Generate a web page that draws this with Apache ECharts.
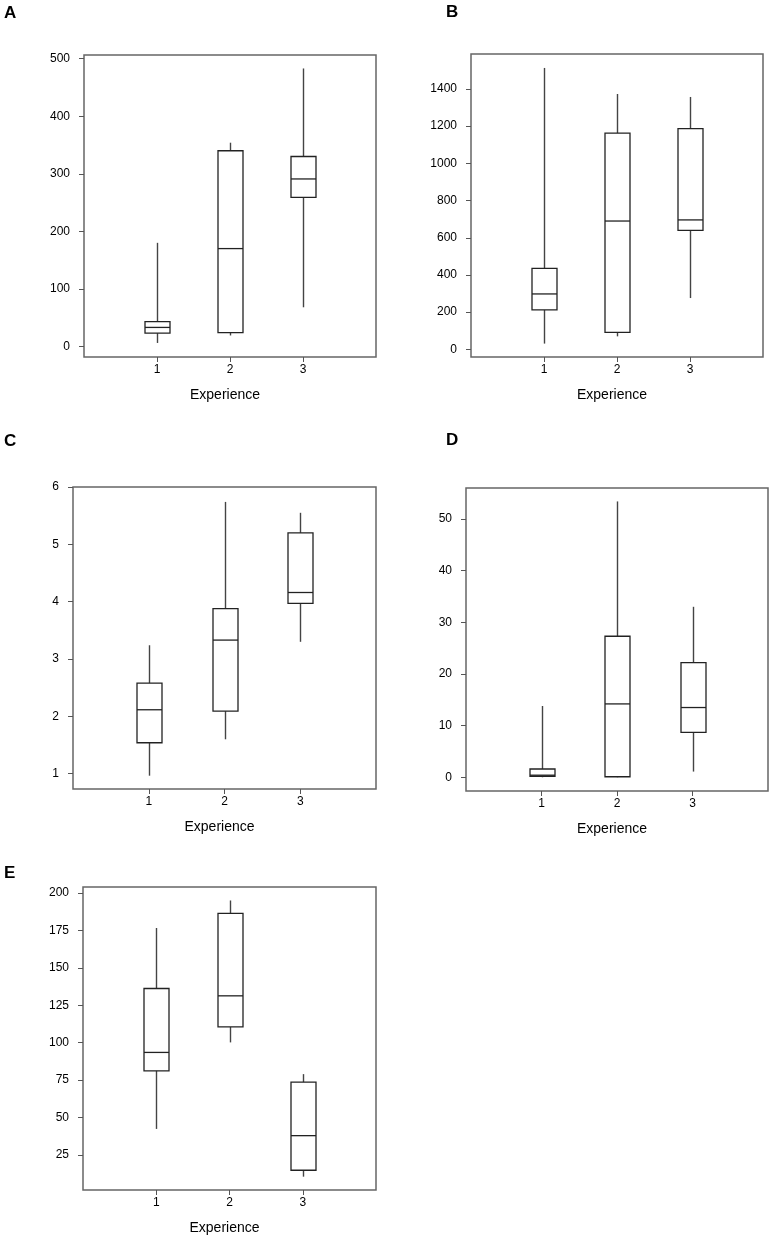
<!DOCTYPE html>
<html>
<head>
<meta charset="utf-8">
<script src="https://cdn.jsdelivr.net/npm/echarts@6/dist/echarts.min.js"></script>
<style>
html,body{margin:0;padding:0;background:#fff;}
#chart{width:772px;height:1239px;}
</style>
</head>
<body>
<div id="chart"></div>
<script>
// Categories (Experience groups)
const experience = [1, 2, 3];
// Each row: [min, Q1, median, Q3, max]
const panelA = [[6, 23, 33, 43, 180], [19, 24, 170, 340, 354], [68, 259, 291, 330, 483]];
const panelB = [[31, 212, 298, 436, 1513], [70, 91, 690, 1163, 1373], [276, 640, 696, 1187, 1357]];
const panelC = [[0.965, 1.54, 2.115, 2.58, 3.24], [1.6, 2.09, 3.33, 3.88, 5.74], [3.3, 3.97, 4.16, 5.2, 5.55]];
const panelD = [[0, 0.2, 0.4, 1.6, 13.8], [0, 0.1, 14.2, 27.3, 53.4], [1.1, 8.7, 13.5, 22.2, 33.0]];
const panelE = [[42.4, 81.2, 93.5, 136.2, 176.6], [100.2, 110.5, 131.3, 186.4, 195], [10.5, 14.8, 37.9, 73.7, 79]];
// Tick labels
const ticksA = [0, 100, 200, 300, 400, 500];
const ticksB = [0, 200, 400, 600, 800, 1000, 1200, 1400];
const ticksC = [1, 2, 3, 4, 5, 6];
const ticksD = [0, 10, 20, 30, 40, 50];
const ticksE = [25, 50, 75, 100, 125, 150, 175, 200];
const panelLetters = ['A', 'B', 'C', 'D', 'E'];
const xName = 'Experience';

const FONT = '"Liberation Sans", Arial, sans-serif';
const panels = [
  {data: panelA, ticks: ticksA, grid: {left: 84, top: 55, width: 292, height: 302}, min: -18.4, max: 506.4, title: {left: 4, top: 5}},
  {data: panelB, ticks: ticksB, grid: {left: 471, top: 54, width: 292, height: 303}, min: -41, max: 1588, title: {left: 446, top: 4}},
  {data: panelC, ticks: ticksC, grid: {left: 73, top: 487, width: 303, height: 302}, min: 0.733, max: 6.0, title: {left: 4, top: 433}},
  {data: panelD, ticks: ticksD, grid: {left: 466, top: 488, width: 302, height: 303}, min: -2.66, max: 56.0, title: {left: 446, top: 432}},
  {data: panelE, ticks: ticksE, grid: {left: 83, top: 887, width: 293, height: 303}, min: 1.6, max: 204, title: {left: 4, top: 865}}
];

function renderBox(params, api) {
  const x = api.value(0);
  const mn = api.coord([x, api.value(1)]);
  const q1 = api.coord([x, api.value(2)]);
  const md = api.coord([x, api.value(3)]);
  const q3 = api.coord([x, api.value(4)]);
  const mx = api.coord([x, api.value(5)]);
  const cx = Math.round(md[0]) + 0.5;
  const hw = 12.5;
  const boxStyle = {stroke: '#222', lineWidth: 1.3, fill: 'none'};
  const whiskStyle = {stroke: '#444', lineWidth: 1.4};
  return {
    type: 'group',
    children: [
      {type: 'line', shape: {x1: cx, y1: mx[1], x2: cx, y2: q3[1]}, style: whiskStyle},
      {type: 'line', shape: {x1: cx, y1: q1[1], x2: cx, y2: mn[1]}, style: whiskStyle},
      {type: 'rect', shape: {x: cx - hw, y: q3[1], width: hw * 2, height: q1[1] - q3[1]}, style: boxStyle},
      {type: 'line', shape: {x1: cx - hw, y1: md[1], x2: cx + hw, y2: md[1]}, style: boxStyle}
    ]
  };
}

const option = {
  backgroundColor: '#fff',
  animation: false,
  title: panels.map((p, i) => ({
    text: panelLetters[i], left: p.title.left, top: p.title.top, padding: 0,
    textStyle: {fontFamily: FONT, fontSize: 17, fontWeight: 'bold', color: '#000'}
  })),
  grid: panels.map(p => Object.assign({show: true, borderColor: '#666', borderWidth: 1.5, backgroundColor: 'transparent'}, p.grid)),
  xAxis: panels.map((p, i) => ({
    type: 'value', gridIndex: i, min: 0, max: 4, position: 'bottom',
    splitLine: {show: false}, axisLine: {show: false, onZero: false},
    axisTick: {show: true, customValues: experience, length: 5, lineStyle: {color: '#555', width: 1}},
    axisLabel: {show: true, customValues: experience, margin: 7, fontFamily: FONT, fontSize: 12, color: '#000',
      formatter: v => String(v)},
    name: xName, nameLocation: 'middle', nameGap: 31,
    nameTextStyle: {fontFamily: FONT, fontSize: 14, color: '#000', padding: [0, 10, 0, 0]}
  })),
  yAxis: panels.map((p, i) => ({
    type: 'value', gridIndex: i, min: p.min, max: p.max, position: 'left',
    splitLine: {show: false}, axisLine: {show: false, onZero: false},
    axisTick: {show: true, customValues: p.ticks, length: 5, lineStyle: {color: '#555', width: 1}},
    axisLabel: {show: true, customValues: p.ticks, margin: 14, fontFamily: FONT, fontSize: 12, color: '#000',
      padding: [0, 0, 5, 0], formatter: v => String(v)}
  })),
  series: panels.map((p, i) => ({
    type: 'custom', xAxisIndex: i, yAxisIndex: i,
    renderItem: renderBox,
    encode: {x: 0, y: [1, 2, 3, 4, 5]},
    data: p.data.map((d, j) => [experience[j]].concat(d)),
    silent: true
  }))
};

const chart = echarts.init(document.getElementById('chart'), null, {renderer: 'canvas'});
chart.setOption(option);
</script>
</body>
</html>
